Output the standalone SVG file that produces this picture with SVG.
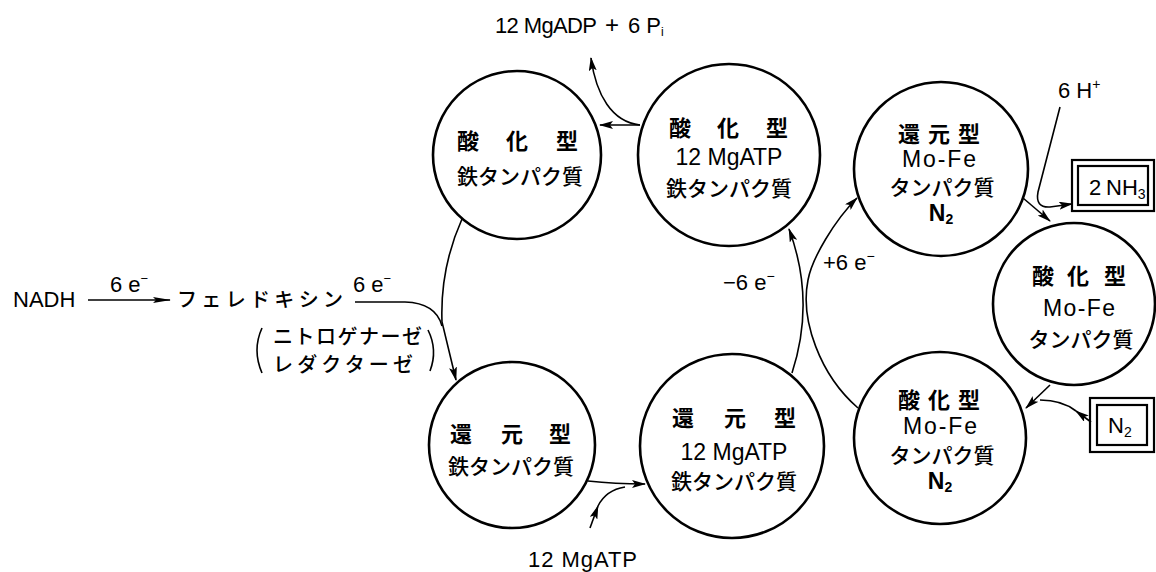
<svg xmlns="http://www.w3.org/2000/svg" width="1156" height="572" viewBox="0 0 1156 572">
<style>
.c{fill:#fff;stroke:#000;stroke-width:2.6}
.e{fill:none;stroke:#000;stroke-width:1.6}
.bx{fill:none;stroke:#000;stroke-width:2.2}
.jb{font-family:"Noto Sans CJK JP","Noto Sans CJK SC",sans-serif;font-weight:700;font-size:22px;text-anchor:middle}
.jn{font-family:"Noto Sans CJK JP","Noto Sans CJK SC",sans-serif;font-weight:500;font-size:21px;text-anchor:middle}
.lt{font-family:"Liberation Sans","Noto Sans",sans-serif;font-size:23px;text-anchor:middle}
.ls{font-family:"Liberation Sans","Noto Sans",sans-serif;font-size:22px}
.jl{font-family:"Noto Sans CJK JP","Noto Sans CJK SC",sans-serif;font-weight:500;font-size:20px}
</style>
<defs>
<marker id="ah" viewBox="0 0 14 8" refX="13" refY="4" markerWidth="14" markerHeight="8" markerUnits="userSpaceOnUse" orient="auto">
<path d="M0,0 L14,4 L0,8 L3,4 z" fill="#000"/>
</marker>
<marker id="ahl" viewBox="0 0 18 7" refX="17" refY="3.5" markerWidth="18" markerHeight="7" markerUnits="userSpaceOnUse" orient="auto">
<path d="M0,0.5 L18,3.5 L0,6.5 L3,3.5 z" fill="#000"/>
</marker>
</defs>
<rect width="1156" height="572" fill="#fff"/>

<g id="connectors">
<path class="e" d="M640,125 L600,125" marker-end="url(#ah)"/>
<path class="e" d="M640,125 C612,122 596,95 591,58" marker-end="url(#ah)"/>
<path class="e" d="M462,219 Q440,268 442,322 L456,380" marker-end="url(#ah)"/>
<path class="e" d="M355,302 L405,302 Q436,303 442,326"/>
<path class="e" d="M88,300 L170,300" marker-end="url(#ahl)"/>
<path class="e" d="M588,481 Q615,484 645,484" marker-end="url(#ah)"/>
<path class="e" d="M590,528 L598,506" marker-end="url(#ah)"/>
<path class="e" d="M598,506 Q606,490 625,487"/>
<path class="e" d="M792,373 C806,330 808,280 789,229" marker-end="url(#ah)"/>
<path class="e" d="M858,408 C820,375 800,320 808,280 C812,258 835,220 857,198" marker-end="url(#ah)"/>
<path class="e" d="M1023,198 L1050,221" marker-end="url(#ah)"/>
<path class="e" d="M1060,107 L1038,192 Q1035,208 1050,207 L1072,204" marker-end="url(#ah)"/>
<path class="e" d="M1050,385 L1026,408" marker-end="url(#ah)"/>
<path class="e" d="M1091,422 L1076,411" marker-end="url(#ah)"/>
<path class="e" d="M1076,411 Q1062,400 1040,400"/>
<path class="e" d="M262,328 Q252,350 262,373"/>
<path class="e" d="M428,330 Q438,350 430,371"/>
</g>

<g id="n1">
<circle class="c" cx="517" cy="155" r="84"/>
<text class="jb" x="468 517 567" y="149">酸化型</text>
<text class="jn" x="520" y="184">鉄タンパク質</text>
</g>
<g id="n2">
<circle class="c" cx="729" cy="155" r="91"/>
<text class="jb" x="680 728 777" y="136">酸化型</text>
<text class="lt" x="729" y="165">12 MgATP</text>
<text class="jn" x="729" y="196">鉄タンパク質</text>
</g>
<g id="n3">
<circle class="c" cx="941" cy="169" r="87"/>
<text class="jb" x="909 939 969" y="142">還元型</text>
<text class="lt" x="939" y="167" font-size="23" textLength="74">Mo-Fe</text>
<text class="jn" x="942" y="195" font-size="20">タンパク質</text>
<text class="lt" x="941" y="221" font-weight="700" font-size="22">N<tspan font-size="14" dy="3">2</tspan></text>
</g>
<g id="n4">
<circle class="c" cx="1074" cy="304" r="81"/>
<text class="jb" x="1043 1078 1115" y="284">酸化型</text>
<text class="lt" x="1079" y="316" font-size="23" textLength="72">Mo-Fe</text>
<text class="jn" x="1081" y="347">タンパク質</text>
</g>
<g id="n5">
<circle class="c" cx="940" cy="438" r="86"/>
<text class="jb" x="909 939 969" y="408">酸化型</text>
<text class="lt" x="940" y="434" font-size="23" textLength="74">Mo-Fe</text>
<text class="jn" x="942" y="463" font-size="20">タンパク質</text>
<text class="lt" x="940" y="489" font-weight="700" font-size="22">N<tspan font-size="14" dy="3">2</tspan></text>
</g>
<g id="n6">
<circle class="c" cx="732" cy="446" r="92"/>
<text class="jb" x="683 735 785" y="426">還元型</text>
<text class="lt" x="734" y="460">12 MgATP</text>
<text class="jn" x="734" y="489">鉄タンパク質</text>
</g>
<g id="n7">
<circle class="c" cx="512" cy="445" r="83"/>
<text class="jb" x="461 512 560" y="442">還元型</text>
<text class="jn" x="511" y="474">鉄タンパク質</text>
</g>

<g id="nh3">
<rect class="bx" x="1072" y="160" width="82" height="51"/>
<rect class="bx" x="1078" y="166" width="70" height="39"/>
<text class="ls" x="1089" y="195">2<tspan x="1106">NH</tspan><tspan font-size="14" dy="4">3</tspan></text>
</g>
<g id="n2box">
<rect class="bx" x="1090" y="398" width="64" height="54"/>
<rect class="bx" x="1097" y="405" width="50" height="40"/>
<text class="ls" x="1108" y="433" font-size="23">N<tspan font-size="14" dy="4">2</tspan></text>
</g>

<g id="labels">
<text class="ls" x="495" y="33"><tspan textLength="102">12 MgADP</tspan><tspan x="605" font-size="24">+</tspan><tspan x="628">6 P</tspan><tspan font-size="12" dy="3">i</tspan></text>
<text class="ls" x="13" y="307" font-size="23">NADH</text>
<text class="ls" x="110" y="292" font-size="20">6 e<tspan font-size="13" dy="-9">−</tspan></text>
<text class="jl" x="177" y="307" textLength="166">フェレドキシン</text>
<text class="ls" x="353" y="292" font-size="20">6 e<tspan font-size="13" dy="-9">−</tspan></text>
<text class="jl" x="273" y="344" font-size="18" textLength="149">ニトロゲナーゼ</text>
<text class="jl" x="273" y="372" font-size="18" textLength="140">レダクターゼ</text>
<text class="ls" x="528" y="567" textLength="109">12 MgATP</text>
<text class="ls" x="1058" y="98">6 H<tspan font-size="14" dy="-9">+</tspan></text>
<text class="ls" x="723" y="290" font-size="23">−6 e<tspan font-size="14" dy="-9">−</tspan></text>
<text class="ls" x="823" y="270" font-size="23">+6 e<tspan font-size="14" dy="-9">−</tspan></text>
</g>
</svg>
